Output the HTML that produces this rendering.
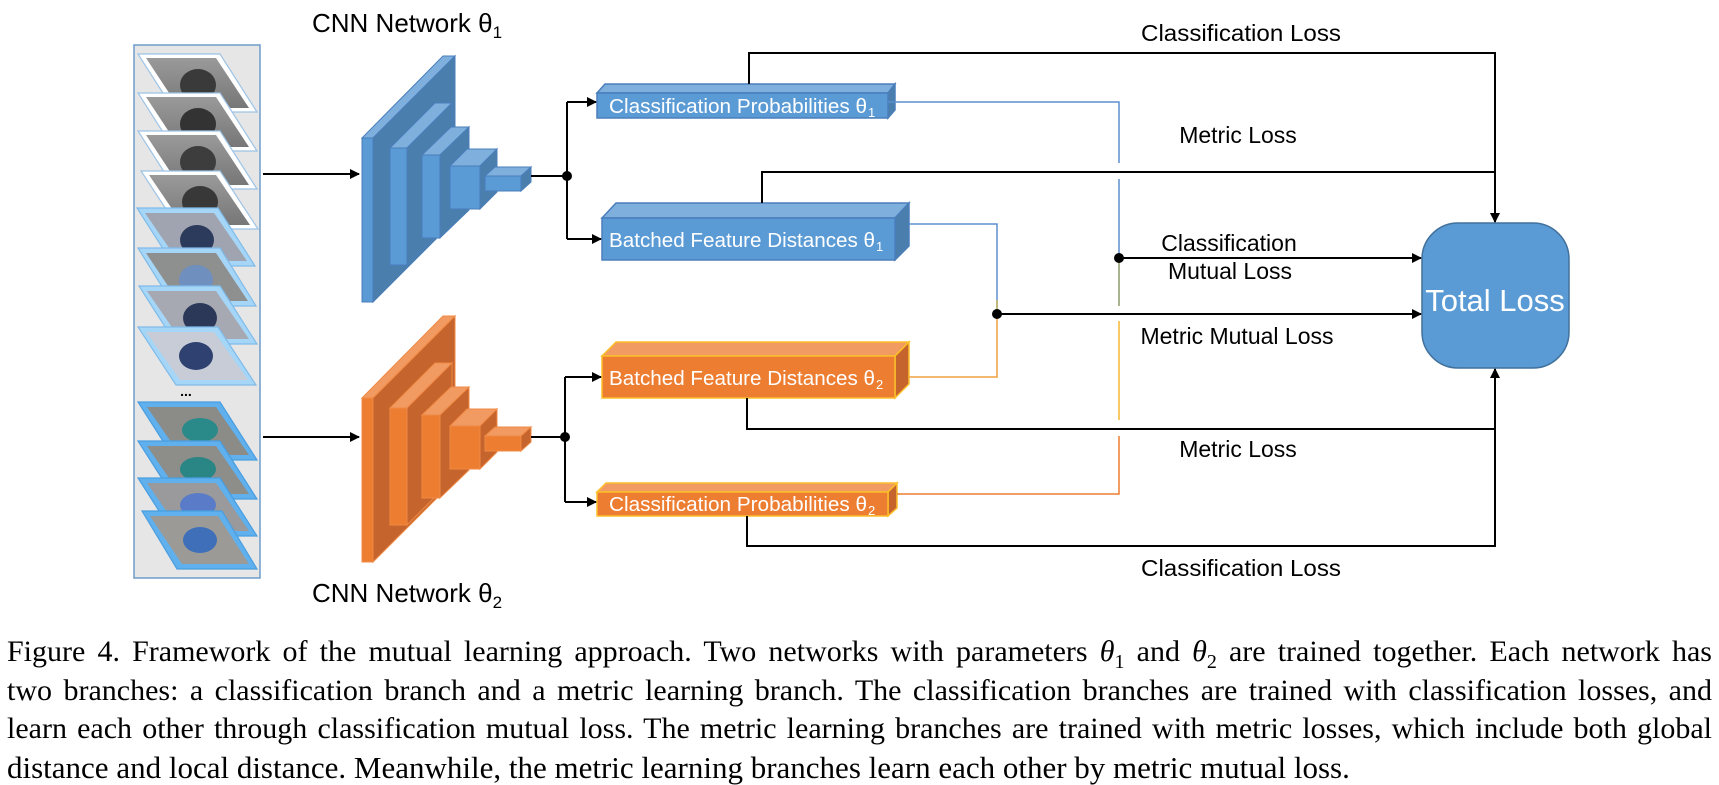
<!DOCTYPE html>
<html><head><meta charset="utf-8"><style>
html,body{margin:0;padding:0;background:#fff;width:1719px;height:785px;overflow:hidden;position:relative}
.cap{position:absolute;left:7px;width:1705px;font-family:"Liberation Serif",serif;font-size:30px;line-height:38.5px;color:#000;white-space:nowrap}
.j{text-align:justify;text-align-last:justify}
</style></head><body>
<svg width="1719" height="630" viewBox="0 0 1719 630" style="position:absolute;left:0;top:0" font-family="Liberation Sans, Arial, sans-serif">
<defs>
<marker id="ah" markerWidth="10" markerHeight="10" refX="9" refY="5" orient="auto" markerUnits="userSpaceOnUse"><path d="M0,0 L10,5 L0,10 z" fill="#000"/></marker>
<linearGradient id="ph" x1="0" y1="0" x2="0" y2="1"><stop offset="0" stop-color="#9a9a9a"/><stop offset="1" stop-color="#777"/></linearGradient>
</defs>
<rect x="134" y="45" width="126" height="533" fill="#e6e6e6" stroke="#6f9cc9" stroke-width="1.5"/>
<g id="imgs">
<g stroke="#9dc3e6" stroke-width="1.2">
<polygon points="138,54 220,54 257,112 175,112" fill="#fff"/><polygon points="146,58 216,58 249,108 179,108" fill="url(#ph)" stroke="none"/><ellipse cx="198" cy="85" rx="18" ry="16" fill="#3a3a3a" stroke="none"/>
<polygon points="138,93 220,93 257,151 175,151" fill="#fff"/><polygon points="146,97 216,97 249,147 179,147" fill="url(#ph)" stroke="none"/><ellipse cx="198" cy="124" rx="18" ry="16" fill="#333" stroke="none"/>
<polygon points="138,131 220,131 257,189 175,189" fill="#fff"/><polygon points="146,135 216,135 249,185 179,185" fill="url(#ph)" stroke="none"/><ellipse cx="198" cy="162" rx="18" ry="16" fill="#3d3d3d" stroke="none"/>
<polygon points="141,171 220,171 258,229 179,229" fill="#fff"/><polygon points="149,175 216,175 250,225 183,225" fill="url(#ph)" stroke="none"/><ellipse cx="200" cy="202" rx="18" ry="16" fill="#383838" stroke="none"/>
</g>
<g stroke="#7fbbe9" stroke-width="1.2">
<polygon points="137,208 218,208 255,266 174,266" fill="#a6d6f7"/><polygon points="145,213 214,213 247,261 178,261" fill="#a0a4b0" stroke="none"/><ellipse cx="197" cy="240" rx="17" ry="15" fill="#2c3a5c" stroke="none"/>
<polygon points="138,248 220,248 256,306 174,306" fill="#a6d6f7"/><polygon points="146,253 216,253 248,301 178,301" fill="#8e8f8f" stroke="none"/><ellipse cx="196" cy="280" rx="17" ry="15" fill="#6f8fbf" stroke="none"/>
<polygon points="139,286 220,286 257,344 176,344" fill="#a6d6f7"/><polygon points="147,291 216,291 249,339 180,339" fill="#a7a9b2" stroke="none"/><ellipse cx="200" cy="318" rx="17" ry="15" fill="#2c3858" stroke="none"/>
<polygon points="138,327 218,327 256,385 176,385" fill="#a6d6f7"/><polygon points="146,332 214,332 248,380 180,380" fill="#c8ccd6" stroke="none"/><ellipse cx="196" cy="356" rx="17" ry="14" fill="#2e4170" stroke="none"/>
</g>
<text x="186" y="396" font-size="14" font-weight="bold" text-anchor="middle">...</text>
<g stroke="#4a9ee0" stroke-width="1.2">
<polygon points="138,402 220,402 257,460 175,460" fill="#5fb0ec"/><polygon points="147,407 216,407 249,455 180,455" fill="#8b8c88" stroke="none"/><ellipse cx="200" cy="430" rx="18" ry="12" fill="#2a8a8a" stroke="none"/>
<polygon points="138,441 220,441 257,499 175,499" fill="#5fb0ec"/><polygon points="147,446 216,446 249,494 180,494" fill="#8d8d89" stroke="none"/><ellipse cx="198" cy="469" rx="18" ry="12" fill="#2a8585" stroke="none"/>
<polygon points="138,478 220,478 257,536 175,536" fill="#5fb0ec"/><polygon points="147,483 216,483 249,531 180,531" fill="#9a9a9c" stroke="none"/><ellipse cx="198" cy="505" rx="18" ry="12" fill="#5a7cc8" stroke="none"/>
<polygon points="142,511 222,511 257,569 177,569" fill="#5fb0ec"/><polygon points="150,516 218,516 249,564 182,564" fill="#9c9a96" stroke="none"/><ellipse cx="200" cy="540" rx="17" ry="13" fill="#3f6fb8" stroke="none"/>
</g>
</g>
<text x="312" y="32" font-size="26">CNN Network θ<tspan font-size="17" dy="6">1</tspan></text>
<text x="312" y="602" font-size="26">CNN Network θ<tspan font-size="17" dy="6">2</tspan></text>
<g stroke="#4a7ebb" stroke-width="1">
<polygon points="362,138 443,56 455,56 373,138" fill="#7fb0dd"/><polygon points="373,138 455,56 455,220 373,302" fill="#4a7fad"/><rect x="362" y="138" width="11" height="164" fill="#5b9bd5"/>
<polygon points="390,148 435,103 452,103 407,148" fill="#7fb0dd"/><polygon points="407,148 452,103 452,220 407,265" fill="#4a7fad"/><rect x="390" y="148" width="17" height="117" fill="#5b9bd5"/>
<polygon points="422,155 451,127 469,127 440,155" fill="#7fb0dd"/><polygon points="440,155 469,127 469,210 440,238" fill="#4a7fad"/><rect x="422" y="155" width="18" height="83" fill="#5b9bd5"/>
<polygon points="450,166 467,149 497,149 480,166" fill="#7fb0dd"/><polygon points="480,166 497,149 497,192 480,209" fill="#4a7fad"/><rect x="450" y="166" width="30" height="43" fill="#5b9bd5"/>
<polygon points="485,176 495,167 531,167 521,176" fill="#7fb0dd"/><polygon points="521,176 531,167 531,182 521,191" fill="#4a7fad"/><rect x="485" y="176" width="36" height="15" fill="#5b9bd5"/>
</g>
<g stroke="#f08a45" stroke-width="1">
<polygon points="362,398 443,316 455,316 373,398" fill="#f19a62"/><polygon points="373,398 455,316 455,480 373,562" fill="#c5642c"/><rect x="362" y="398" width="11" height="164" fill="#ed7d31"/>
<polygon points="390,408 435,363 452,363 407,408" fill="#f19a62"/><polygon points="407,408 452,363 452,480 407,525" fill="#c5642c"/><rect x="390" y="408" width="17" height="117" fill="#ed7d31"/>
<polygon points="422,415 451,387 469,387 440,415" fill="#f19a62"/><polygon points="440,415 469,387 469,470 440,498" fill="#c5642c"/><rect x="422" y="415" width="18" height="83" fill="#ed7d31"/>
<polygon points="450,426 467,409 497,409 480,426" fill="#f19a62"/><polygon points="480,426 497,409 497,452 480,469" fill="#c5642c"/><rect x="450" y="426" width="30" height="43" fill="#ed7d31"/>
<polygon points="485,436 495,427 531,427 521,436" fill="#f19a62"/><polygon points="521,436 531,427 531,442 521,451" fill="#c5642c"/><rect x="485" y="436" width="36" height="15" fill="#ed7d31"/>
</g>
<g stroke="#4a7ebb" stroke-width="1.5">
<polygon points="597,93 605,84 895,84 888,93" fill="#7fb0dd"/><polygon points="888,93 895,84 895,110 888,118" fill="#4a7fad"/><rect x="597" y="93" width="291" height="25" fill="#5b9bd5"/>
<polygon points="602,218 616,203 909,203 895,218" fill="#7fb0dd"/><polygon points="895,218 909,203 909,246 895,260" fill="#4a7fad"/><rect x="602" y="218" width="293" height="42" fill="#5b9bd5"/>
</g>
<g stroke="#fbbf2a" stroke-width="1.5">
<polygon points="602,356 616,342 909,342 895,356" fill="#f19a62"/><polygon points="895,356 909,342 909,384 895,398" fill="#c5642c"/><rect x="602" y="356" width="293" height="42" fill="#ed7d31"/>
<polygon points="597,492 606,483 897,483 888,492" fill="#f19a62"/><polygon points="888,492 897,483 897,508 888,516" fill="#c5642c"/><rect x="597" y="492" width="291" height="24" fill="#ed7d31"/>
</g>
<g fill="#fff" font-size="20">
<text x="609" y="113" textLength="258" lengthAdjust="spacingAndGlyphs">Classification Probabilities θ</text><text x="868" y="117" font-size="13">1</text>
<text x="609" y="247" textLength="266" lengthAdjust="spacingAndGlyphs">Batched Feature Distances θ</text><text x="876" y="251" font-size="13">1</text>
<text x="609" y="385" textLength="266" lengthAdjust="spacingAndGlyphs">Batched Feature Distances θ</text><text x="876" y="389" font-size="13">2</text>
<text x="609" y="511" textLength="258" lengthAdjust="spacingAndGlyphs">Classification Probabilities θ</text><text x="868" y="515" font-size="13">2</text>
</g>
<rect x="1422" y="223" width="147" height="145" rx="36" fill="#5b9bd5" stroke="#41719c" stroke-width="1.5"/>
<text x="1495" y="311" font-size="31" fill="#fff" text-anchor="middle">Total Loss</text>
<g fill="none" stroke-width="1.5">
<path d="M888,102 H1119 V163 M1119,179 V258" stroke="#5b8fd0"/>
<path d="M1119,258 V306" stroke="#8a9a6a"/>
<path d="M1119,321 V420" stroke="#f5b731"/>
<path d="M1119,436 V494 H897" stroke="#ed7d31"/>
<path d="M909,224 H997 V300" stroke="#5b8fd0"/>
<path d="M997,300 V314" stroke="#a8a050"/>
<path d="M997,314 V377 H909" stroke="#f0a040"/>
</g>
<g fill="none" stroke="#000" stroke-width="2">
<path d="M263,174 H359" marker-end="url(#ah)"/>
<path d="M263,437 H359" marker-end="url(#ah)"/>
<path d="M531,176 H567 M567,102 V239"/>
<path d="M567,102 H596" marker-end="url(#ah)"/>
<path d="M567,239 H601" marker-end="url(#ah)"/>
<path d="M531,437 H565 M565,377 V502"/>
<path d="M565,377 H601" marker-end="url(#ah)"/>
<path d="M565,502 H596" marker-end="url(#ah)"/>
<path d="M749,84 V53 H1495 V222" marker-end="url(#ah)"/>
<path d="M762,203 V172 H1495"/>
<path d="M1119,258 H1421" marker-end="url(#ah)"/>
<path d="M997,314 H1421" marker-end="url(#ah)"/>
<path d="M747,398 V429 H1495"/>
<path d="M747,516 V546 H1495 V369" marker-end="url(#ah)"/>
</g>
<g fill="#000"><circle cx="567" cy="176" r="5"/><circle cx="565" cy="437" r="5"/><circle cx="1119" cy="258" r="5"/><circle cx="997" cy="314" r="5"/></g>
<g font-size="23" text-anchor="middle" fill="#000">
<text x="1241" y="41" textLength="200" lengthAdjust="spacingAndGlyphs">Classification Loss</text>
<text x="1238" y="143">Metric Loss</text>
<text x="1229" y="251">Classification</text>
<text x="1230" y="279">Mutual Loss</text>
<text x="1237" y="344">Metric Mutual Loss</text>
<text x="1238" y="457">Metric Loss</text>
<text x="1241" y="576" textLength="200" lengthAdjust="spacingAndGlyphs">Classification Loss</text>
</g>
</svg>
<div class="cap j" style="top:633px">Figure 4. Framework of the mutual learning approach. Two networks with parameters <i>θ</i><sub style="font-size:20px">1</sub> and <i>θ</i><sub style="font-size:20px">2</sub> are trained together. Each network has</div>
<div class="cap j" style="top:671.5px">two branches: a classification branch and a metric learning branch. The classification branches are trained with classification losses, and</div>
<div class="cap j" style="top:710px">learn each other through classification mutual loss. The metric learning branches are trained with metric losses, which include both global</div>
<div class="cap" style="top:748.5px;font-size:31px">distance and local distance. Meanwhile, the metric learning branches learn each other by metric mutual loss.</div>
</body></html>
